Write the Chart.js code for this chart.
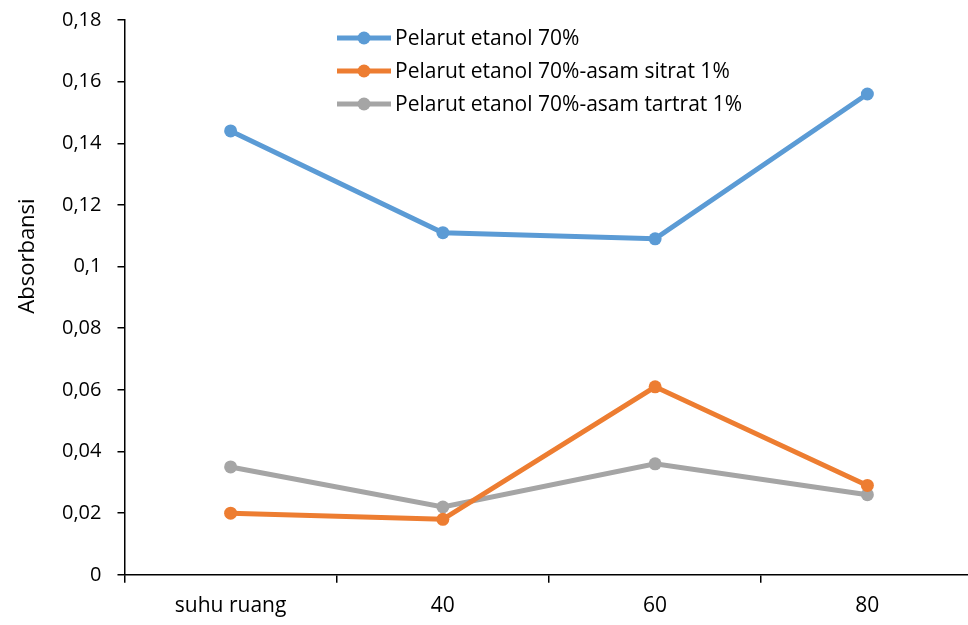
<!DOCTYPE html>
<html>
<head>
<meta charset="utf-8">
<script src="https://cdn.jsdelivr.net/npm/chart.js@4.4.1/dist/chart.umd.min.js"></script>
<style>
    html, body { margin: 0; padding: 0; background: #fff; overflow: hidden; }
    #wrap { width: 968px; height: 625px; overflow: hidden; }
    #box { width: 980px; height: 625px; }
</style>
</head>
<body>
<div id="wrap"><div id="box"><canvas id="lineChart"></canvas></div></div>
<script>
const categories = ["suhu ruang", "40", "60", "80"];
const etanol = [0.144, 0.111, 0.109, 0.156];
const sitrat = [0.020, 0.018, 0.061, 0.029];
const tartrat = [0.035, 0.022, 0.036, 0.026];
const seriesNames = ["Pelarut etanol 70%", "Pelarut etanol 70%-asam sitrat 1%", "Pelarut etanol 70%-asam tartrat 1%"];
const yTitle = "Absorbansi";

const FONT = "'Open Sans', sans-serif";

function makeSet(label, data, color) {
    return {
        label: label,
        data: data,
        borderColor: color,
        backgroundColor: color,
        borderWidth: 5,
        pointRadius: 6.5,
        pointHoverRadius: 6.5,
        pointBorderWidth: 0,
        tension: 0
    };
}

// legend + y title drawn by hand (Excel style)
const extras = {
    id: 'extras',
    afterDraw(chart) {
        const ctx = chart.ctx;
        ctx.save();
        ctx.font = "21px " + FONT;
        ctx.textBaseline = 'middle';
        chart.data.datasets.forEach((ds, i) => {
            const y = 38 + 33 * i;
            ctx.strokeStyle = ds.borderColor;
            ctx.lineWidth = 5;
            ctx.beginPath();
            ctx.moveTo(337, y);
            ctx.lineTo(391, y);
            ctx.stroke();
            ctx.fillStyle = ds.borderColor;
            ctx.beginPath();
            ctx.arc(364, y, 6.5, 0, Math.PI * 2);
            ctx.fill();
            ctx.fillStyle = '#000';
            ctx.textAlign = 'left';
            ctx.fillText(ds.label, 395, y + 1);
        });
        ctx.translate(28, 256);
        ctx.rotate(-Math.PI / 2);
        ctx.textAlign = 'center';
        ctx.font = "22px " + FONT;
        ctx.fillText(yTitle, 0, 0);
        ctx.restore();
    }
};

var ctx = document.getElementById("lineChart").getContext("2d");
var lineChart = new Chart(ctx, {
    type: "line",
    data: {
        labels: categories,
        datasets: [
            makeSet(seriesNames[0], etanol, "#5B9BD5"),
            makeSet(seriesNames[1], sitrat, "#ED7D31"),
            makeSet(seriesNames[2], tartrat, "#A5A5A5")
        ]
    },
    options: {
        responsive: true,
        maintainAspectRatio: false,
        animation: false,
        layout: { padding: { left: 46, right: 6, top: 0, bottom: -5 } },
        plugins: {
            legend: { display: false },
            tooltip: { enabled: false }
        },
        scales: {
            x: {
                offset: true,
                grid: { offset: true, drawOnChartArea: false, tickLength: 8, color: '#000', lineWidth: 1.5 },
                border: { color: '#000', width: 1.5 },
                ticks: { color: '#000', font: { family: FONT, size: 21 }, padding: 11, maxRotation: 0 }
            },
            y: {
                min: 0,
                max: 0.18,
                grid: { drawOnChartArea: false, tickLength: 7, color: '#000', lineWidth: 1.5 },
                border: { color: '#000', width: 1.5 },
                afterFit: function(scale) {
                    scale.paddingTop = 20;
                },
                ticks: {
                    stepSize: 0.02,
                    color: '#000',
                    font: { family: FONT, size: 20 },
                    padding: 16,
                    callback: function(value) {
                        return String(Math.round(value * 100) / 100).replace('.', ',');
                    }
                }
            }
        }
    },
    plugins: [extras]
});
</script>
</body>
</html>
